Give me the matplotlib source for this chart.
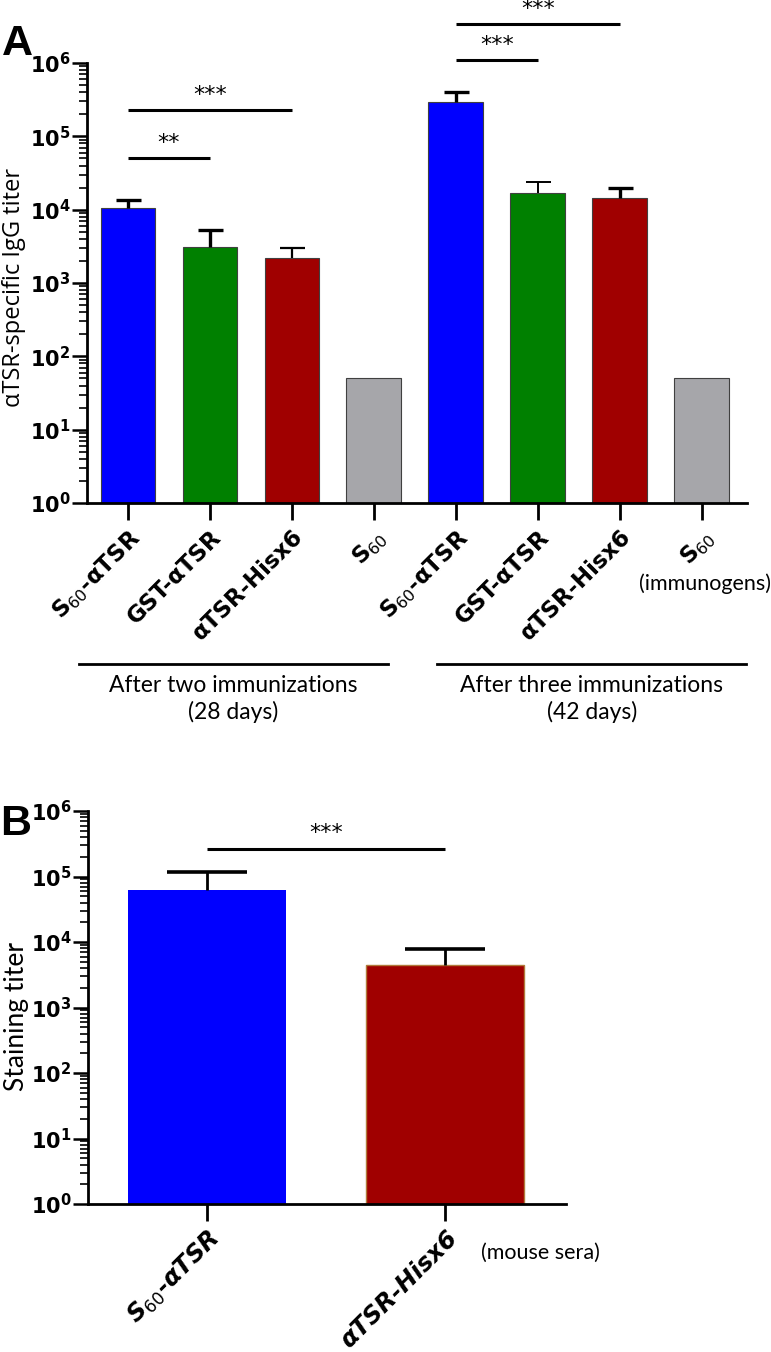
import matplotlib
matplotlib.use("Agg")
import matplotlib.pyplot as plt
import matplotlib.ticker as mticker
import numpy as np

# panel A: IgG titers after 2 and 3 immunizations
labels_a = [r"S$_{\mathrm{60}}$-αTSR", "GST-αTSR", "αTSR-Hisx6", r"S$_{\mathrm{60}}$",
            r"S$_{\mathrm{60}}$-αTSR", "GST-αTSR", "αTSR-Hisx6", r"S$_{\mathrm{60}}$"]
titer_a = [1.05e4, 3.1e3, 2.2e3, 50, 2.9e5, 1.7e4, 1.45e4, 50]
err_a = [3.2e3, 2.1e3, 0.8e3, 0, 1.1e5, 0.65e4, 0.55e4, 0]
groups_a = ["After two immunizations\n(28 days)", "After three immunizations\n(42 days)"]
# significance brackets: (bar i, bar j, y, text)
sig_a = [(0, 1, 5.1e4, "**"), (0, 2, 2.27e5, "***"),
         (4, 5, 1.1e6, "***"), (4, 6, 3.4e6, "***")]

# panel B: staining titers of mouse sera
labels_b = [r"S$_{\mathit{60}}$-αTSR", "αTSR-Hisx6"]
titer_b = [6.3e4, 4.4e3]
err_b = [5.6e4, 3.3e3]
sig_b = [(0, 1, 2.67e5, "***")]

cols_a = ["#0000ff", "#008000", "#a00000", "#a6a6aa"] * 2
errlw_a = [2.4, 2.4, 1.6, 0, 2.4, 1.4, 2.4, 0]
cols_b = ["#0000ff", "#a00000"]

txtfont = ["Lato", "Open Sans", "DejaVu Sans"]

fig = plt.figure(figsize=(7.71, 13.52), dpi=100)
axA = fig.add_axes([87 / 771, 1 - 503 / 1352, 660 / 771, 440 / 1352])
axB = fig.add_axes([88 / 771, 1 - 1204 / 1352, 478 / 771, 393 / 1352])


def style_axis(ax, ticklabels, italic, size):
    ax.set_yscale("log")
    ax.set_ylim(1, 1e6)
    for s in ["top", "right"]:
        ax.spines[s].set_visible(False)
    for s in ["left", "bottom"]:
        ax.spines[s].set_linewidth(2.0)
    ax.yaxis.set_major_locator(mticker.FixedLocator([10.0 ** k for k in range(7)]))
    ax.yaxis.set_major_formatter(mticker.FixedFormatter(
        [r"$\mathbf{10^{%d}}$" % k for k in range(7)]))
    ax.yaxis.set_minor_locator(mticker.LogLocator(base=10, subs=np.arange(2, 10), numticks=20))
    ax.yaxis.set_minor_formatter(mticker.NullFormatter())
    ax.tick_params(axis="y", which="major", length=11, width=1.8, labelsize=15, pad=1)
    ax.tick_params(axis="y", which="minor", length=6, width=1.2)
    ax.tick_params(axis="x", length=12, width=2, pad=4)
    ax.set_xticks(range(len(ticklabels)))
    ax.set_xticklabels(ticklabels, rotation=45, ha="right", rotation_mode="anchor",
                       fontsize=size, fontweight="bold", family="DejaVu Sans",
                       style="italic" if italic else "normal")


def upper_err(ax, x, v, e, lw, cap, capw):
    _, caps, _ = ax.errorbar(x, v, yerr=[[0], [e]], fmt="none", ecolor="black",
                             elinewidth=lw, capsize=cap, capthick=capw)
    caps[0].set_visible(False)


def brackets(ax, sig, off):
    for i, j, y, t in sig:
        ax.plot([i, j], [y, y], color="black", lw=2.2, clip_on=False, solid_capstyle="butt")
        ax.annotate(t, xy=((i + j) / 2, y), xytext=(0, off), textcoords="offset points",
                    ha="center", va="center", fontsize=16, annotation_clip=False)


# ---- panel A
xa = np.arange(len(titer_a))
axA.bar(xa, titer_a, width=0.67, color=cols_a, edgecolor="#404040", linewidth=0.8)
for x, v, e, lw in zip(xa, titer_a, err_a, errlw_a):
    if e > 0:
        upper_err(axA, x, v, e, lw, 9, lw)
axA.set_xlim(-0.5, 7.55)
style_axis(axA, labels_a, False, 16.5)
brackets(axA, sig_a, 11)
axA.set_ylabel("αTSR-specific IgG titer", fontsize=17, family=["Open Sans"])
axA.yaxis.set_label_coords(-0.092, 0.49)

trA = axA.get_xaxis_transform()
for (x0, x1), g in zip([(-0.6, 3.17), (3.77, 7.54)], groups_a):
    axA.plot([x0, x1], [-0.366, -0.366], color="black", lw=2.0, transform=trA, clip_on=False)
    axA.text((x0 + x1) / 2, -0.392, g, transform=trA, ha="center", va="top",
             fontsize=16.5, family=txtfont, linespacing=1.25)
axA.text(7.04, -0.184, "(immunogens)", transform=trA, ha="center", va="center",
         fontsize=15.5, family=txtfont)

# ---- panel B
xb = np.arange(len(titer_b))
bars = axB.bar(xb, titer_b, width=0.664, color=cols_b, linewidth=0)
bars[1].set_edgecolor("#b07a3a")
bars[1].set_linewidth(1.0)
for x, v, e in zip(xb, titer_b, err_b):
    upper_err(axB, x, v, e, 2.0, 29, 2.6)
axB.set_xlim(-0.5, 1.508)
style_axis(axB, labels_b, True, 17.5)
brackets(axB, sig_b, 11)
axB.set_ylabel("Staining titer", fontsize=19, family=txtfont)
axB.yaxis.set_label_coords(-0.124, 0.478)
axB.text(1.40, -0.125, "(mouse sera)", transform=axB.get_xaxis_transform(),
         ha="center", va="center", fontsize=15.5, family=txtfont)

# panel letters
fig.text(2 / 771, 1 - 55 / 1352, "A", fontsize=31, fontweight="bold",
         family="Liberation Sans", va="baseline")
fig.text(0 / 771, 1 - 835 / 1352, "B", fontsize=31, fontweight="bold",
         family="Liberation Sans", va="baseline")

fig.savefig("out.png", dpi=100)
